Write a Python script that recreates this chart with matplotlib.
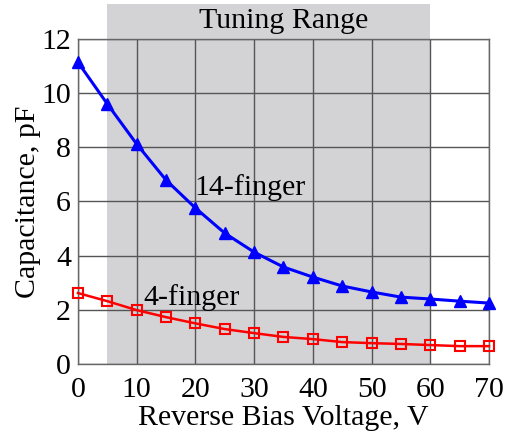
import numpy as np
import matplotlib.pyplot as plt
from matplotlib.patches import Rectangle

# Data
voltage = [0, 5, 10, 15, 20, 25, 30, 35, 40, 45, 50, 55, 60, 65, 70]
cap_14 = [11.14, 9.6, 8.12, 6.79, 5.76, 4.83, 4.13, 3.58, 3.21, 2.88, 2.66, 2.47, 2.40, 2.32, 2.25]
cap_4 = [2.62, 2.32, 1.99, 1.73, 1.50, 1.29, 1.14, 1.00, 0.92, 0.81, 0.77, 0.74, 0.70, 0.66, 0.66]
tuning = (5, 60)

plt.rcParams['font.family'] = ['Liberation Serif', 'DejaVu Serif']
fs = 21.5

fig = plt.figure(figsize=(5.08, 4.4), dpi=100)
ax = fig.add_axes([0.1535, 0.1727, 0.8091, 0.7387])

# shaded tuning range, reaching above the plot area
rect = Rectangle((tuning[0], 0), tuning[1] - tuning[0], 13.3, facecolor='#d3d3d6',
                 edgecolor='none', clip_on=False, zorder=0)
ax.add_patch(rect)
ax.text(35, 12.68, 'Tuning Range', ha='center', va='center', fontsize=fs)

ax.plot(voltage, cap_14, color='#0000ff', lw=2.2, marker='^', markersize=8.5,
        zorder=3, clip_on=False)
ax.plot(voltage, cap_4, color='#ff0000', lw=1.8, marker='s', markersize=7,
        markerfacecolor='none', markeredgewidth=1.5, zorder=3, clip_on=False)

ax.text(19.8, 6.5, '14-finger', fontsize=fs, va='center', ha='left')
ax.text(11.2, 2.47, '4-finger', fontsize=fs, va='center', ha='left')

ax.set_xlim(0, 70)
ax.set_ylim(0, 12)
ax.set_xticks(np.arange(0, 71, 10))
ax.set_yticks(np.arange(0, 13, 2))
ax.tick_params(length=0, labelsize=fs)
ax.tick_params(axis='x', pad=9)
ax.tick_params(axis='y', pad=5)
ax.set_facecolor('none')
ax.grid(True, color='#555555', lw=1)
ax.set_axisbelow(True)
for s in ax.spines.values():
    s.set_color('#666666')
    s.set_linewidth(1)

ax.set_xlabel('Reverse Bias Voltage, V', fontsize=fs, labelpad=2)
ax.set_ylabel('Capacitance, pF', fontsize=fs, labelpad=0)

plt.savefig('out.png', dpi=100)
